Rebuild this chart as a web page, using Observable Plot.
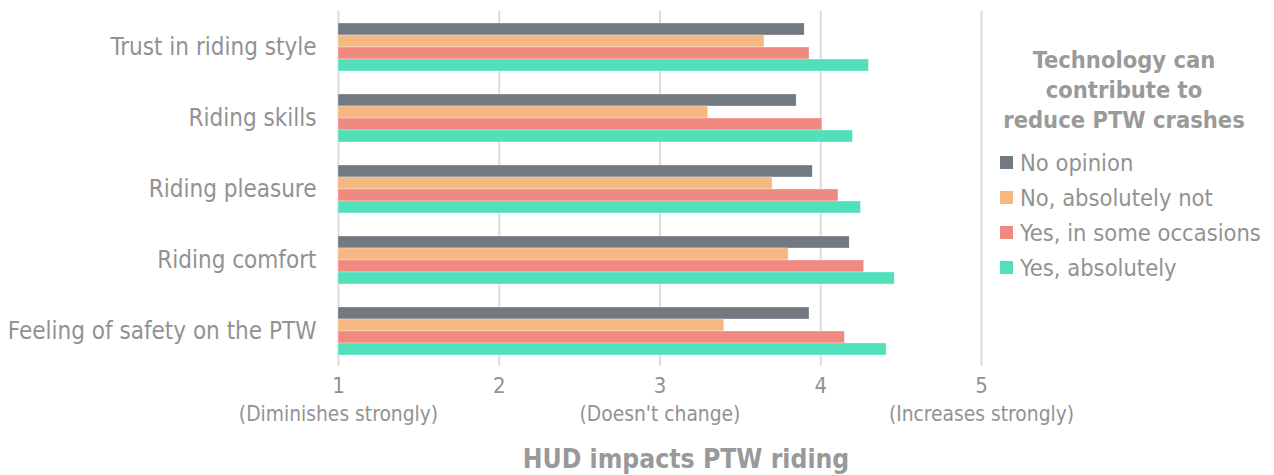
<!DOCTYPE html>
<html>
<head>
<meta charset="utf-8">
<script src="https://cdn.jsdelivr.net/npm/d3@7"></script>
<script src="https://cdn.jsdelivr.net/npm/@observablehq/plot@0.6"></script>
<style>
  html, body { margin: 0; padding: 0; background: #fff; }
  #wrap { position: relative; width: 1274px; height: 475px; font-family: "DejaVu Sans Condensed", "DejaVu Sans", sans-serif; font-stretch: condensed; }
  #legend { position: absolute; left: 992px; top: 45px; width: 282px; color: #929292; }
  #legend .title { font-weight: bold; font-size: 23.5px; line-height: 30px; text-align: center; width: 264px; color: #9a9a9a; }
  #legend .item { display: flex; align-items: center; font-size: 23.5px; height: 35px; }
  #legend .sw { width: 13px; height: 13px; margin-left: 8px; margin-right: 7px; flex: none; }
</style>
</head>
<body>
<div id="wrap"></div>
<script>
const categories = ["Trust in riding style", "Riding skills", "Riding pleasure", "Riding comfort", "Feeling of safety on the PTW"];
const series = ["No opinion", "No, absolutely not", "Yes, in some occasions", "Yes, absolutely"];
const noOpinion     = [3.90, 3.85, 3.95, 4.18, 3.93];
const noAbsolutely  = [3.65, 3.30, 3.70, 3.80, 3.40];
const yesSome       = [3.93, 4.01, 4.11, 4.27, 4.15];
const yesAbsolutely = [4.30, 4.20, 4.25, 4.46, 4.41];
const colors = ["#737980", "#f5b883", "#f08a80", "#52e0bb"];
const tickValues = [1, 2, 3, 4, 5];
const tickSubLabels = ["(Diminishes strongly)", "", "(Doesn't change)", "", "(Increases strongly)"];
const axisTitle = "HUD impacts PTW riding";
const legendTitle = ["Technology can", "contribute to", "reduce PTW crashes"];

const seriesValues = [noOpinion, noAbsolutely, yesSome, yesAbsolutely];
const data = [];
categories.forEach((c, i) => {
  series.forEach((s, j) => {
    data.push({category: c, series: s, value: seriesValues[j][i]});
  });
});

const textColor = "#929292";
const fontFam = '"DejaVu Sans Condensed", "DejaVu Sans", sans-serif';

const chart = Plot.plot({
  width: 1274,
  height: 475,
  marginLeft: 338,
  marginRight: 293,
  marginTop: 11,
  marginBottom: 109,
  style: {fontFamily: fontFam, background: "#fff"},
  x: {domain: [1, 5]},
  y: {domain: series, paddingInner: 0, paddingOuter: 0.928, axis: null},
  fy: {domain: categories, padding: 0},
  color: {domain: series, range: colors},
  marks: [
    Plot.gridX(tickValues, {stroke: "#dcdcdc", strokeOpacity: 1, strokeWidth: 2}),
    Plot.barX(data, {x1: 1, x2: "value", y: "series", fy: "category", fill: "series", stroke: "#ffffff", strokeWidth: 0.6, strokeOpacity: 0.5}),
    Plot.axisFy({anchor: "left", tickSize: 0, tickPadding: 22, label: null, fontSize: 24, color: textColor, fill: textColor}),
    Plot.axisX(tickValues, {anchor: "bottom", tickSize: 0, tickPadding: 11, label: null, fontSize: 22, color: textColor, fill: textColor, tickFormat: d => String(d)}),
    Plot.axisX(tickValues, {anchor: "bottom", tickSize: 0, tickPadding: 40, label: null, fontSize: 20.8, color: textColor, fill: textColor, tickFormat: d => tickSubLabels[tickValues.indexOf(d)]}),
    Plot.text([axisTitle], {frameAnchor: "bottom", dx: 26, dy: 101, text: d => d, fontSize: 26.3, fontWeight: "bold", fill: "#999999", facetAnchor: "bottom"})
  ]
});

const wrap = document.getElementById("wrap");
wrap.appendChild(chart);

const legend = document.createElement("div");
legend.id = "legend";
const t = document.createElement("div");
t.className = "title";
t.innerHTML = legendTitle.join("<br>");
legend.appendChild(t);
const gap = document.createElement("div");
gap.style.height = "10px";
legend.appendChild(gap);
series.forEach((s, j) => {
  const it = document.createElement("div");
  it.className = "item";
  const sw = document.createElement("span");
  sw.className = "sw";
  sw.style.background = colors[j];
  const tx = document.createElement("span");
  tx.textContent = s;
  it.appendChild(sw);
  it.appendChild(tx);
  legend.appendChild(it);
});
wrap.appendChild(legend);
</script>
</body>
</html>
